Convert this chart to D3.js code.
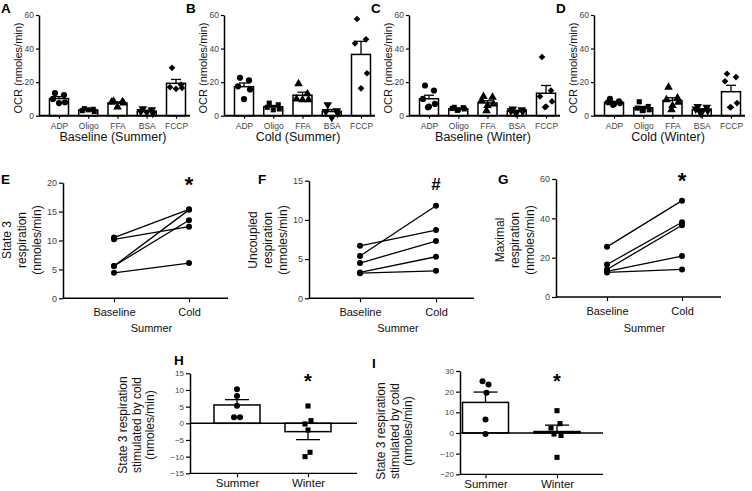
<!DOCTYPE html>
<html><head><meta charset="utf-8">
<script src="https://cdn.jsdelivr.net/npm/d3@7"></script>
<style>
body{margin:0;background:#fff}
svg text{font-family:"Liberation Sans",Arial,sans-serif}
</style></head><body>
<svg id="c" width="752" height="491"></svg>
<script>
// ---------- DATA ----------
const ocrCategories = ["ADP","Oligo","FFA","BSA","FCCP"];
const ocrTicks = [0,20,40,60];

const baselineSummerMean = [10.2, 3.4, 7.6, 2.7, 19.3];
const baselineSummerSem  = [1.2, 0.3, 0.6, 0.5, 2.3];
const baselineSummerPts  = [[13.5,12.3,10,8,7.5],[4.2,3.8,3.0,2.5,3.5],[8.7,8.4,8.0,7.6,5.2],[4.2,3.5,2.5,1.5,2.0],[28.5,18.5,17,16.5,16]];

const coldSummerMean = [17.3, 5.3, 12.2, 2.5, 36.5];
const coldSummerSem  = [2.2, 0.8, 1.8, 1.2, 7.8];
const coldSummerPts  = [[22.6,21,17.5,15.6,9.9],[7.5,6.5,5,4,3.5],[19,13,10,9.5,9.5],[6.5,3,2.5,1.5,-1],[57.6,45.5,43.1,25.3,16.3]];

const baselineWinterMean = [10.1, 4.1, 7.6, 2.8, 13.4];
const baselineWinterSem  = [2.1, 0.3, 1.3, 0.35, 4.6];
const baselineWinterPts  = [[18,15,10,7,5.5,5],[5,4.8,4.3,4,3.5,3.2],[11.5,11,9,7,6,3],[4,3.5,3,2.5,2,1.8],[35,15,11.5,8.5,5.5,5]];

const coldWinterMean = [7.9, 4.7, 9.1, 3.5, 14.3];
const coldWinterSem  = [0.6, 0.8, 1.6, 0.65, 3.8];
const coldWinterPts  = [[10,8.5,8,7.5,7,6.5],[8.3,5.5,4.5,3.5,3.2,3],[17,10.5,9.5,8,6,3.5],[5.5,5,4,3,2,1.5],[25,23,20.5,7.5,5,5]];

const pairConditions = ["Baseline","Cold"];
const state3Baseline = [10.5,10.2,5.6,5.6,4.4];
const state3Cold     = [15.4,12.4,15.3,13.5,6.1];
const state3Ticks    = [0,5,10,15,20];
const uncoupledBaseline = [6.7,5.4,4.5,3.3,3.2];
const uncoupledCold     = [8.7,11.8,7.3,5.3,3.5];
const uncoupledTicks    = [0,5,10,15];
const maximalBaseline = [25.5,16.5,14,13,12.5];
const maximalCold     = [49,38,36.5,20.8,14];
const maximalTicks    = [0,20,40,60];

const seasons = ["Summer","Winter"];
const hMean = [5.5,-2.5];
const hSem  = [1.6,2.4];
const hSummerPts = [10.2,8.2,5.3,1.8,1.8];
const hWinterPts = [5.2,0.8,-0.2,-2.0,-8.7,-10];
const hTicks = [-15,-10,-5,0,5,10,15];
const iMean = [14.8,0.7];
const iSem  = [5.0,3.1];
const iSummerPts = [25,23.5,19.5,6.5,-0.5];
const iWinterPts = [10.8,4.5,2.4,-0.5,-1.2,-11.8];
const iTicks = [-20,-10,0,10,20,30];

// ---------- DRAWING ----------
const svg = d3.select("#c");
const TICKC = "#444";
const jitter = [-4,5,-6,6,0,-1];

function styleAxis(sel, fs){
  sel.attr("font-family",null).attr("font-size",null);
  sel.selectAll("text").attr("font-size",fs).attr("fill",TICKC);
  sel.selectAll(".tick line").attr("stroke","#000").attr("stroke-width",1.2);
  sel.select(".domain").attr("stroke","#000").attr("stroke-width",1.5);
}
function vtext(g,x,y,str,fs){
  g.append("text").attr("transform",`translate(${x},${y}) rotate(-90)`)
    .attr("text-anchor","middle").attr("dominant-baseline","central")
    .attr("font-size",fs).attr("fill","#111").text(str);
}
function letter(g,x,y,l){
  g.append("text").attr("x",x).attr("y",y).attr("font-size",13.5).attr("font-weight","bold").text(l);
}

const symTypes = [
  {t:d3.symbolCircle,s:30,r:0},
  {t:d3.symbolSquare,s:26,r:0},
  {t:d3.symbolTriangle,s:32,r:0},
  {t:d3.symbolTriangle,s:32,r:180},
  {t:d3.symbolSquare,s:22,r:45}
];

function ocrPanel(ox,lab,title,means,sems,pts){
  const g = svg.append("g").attr("transform",`translate(${ox},0)`);
  const x = d3.scalePoint().domain(ocrCategories).range([59,176]);
  const y = d3.scaleLinear().domain([0,60]).range([115.7,15]);
  const ya = g.append("g").attr("transform","translate(39,0)")
    .call(d3.axisLeft(y).tickValues(ocrTicks).tickSize(3).tickSizeOuter(0).tickPadding(2));
  styleAxis(ya,8.5);
  const bw = 19;
  g.selectAll("rect.bar").data(means).join("rect")
    .attr("x",(d,i)=>x(ocrCategories[i])-bw/2).attr("y",d=>y(d))
    .attr("width",bw).attr("height",d=>y(0)-y(d))
    .attr("fill","#fff").attr("stroke","#000").attr("stroke-width",1.5);
  means.forEach((m,i)=>{
    const cx = x(ocrCategories[i]);
    g.append("line").attr("x1",cx).attr("x2",cx).attr("y1",y(m)).attr("y2",y(m+sems[i])).attr("stroke","#000").attr("stroke-width",1.3);
    g.append("line").attr("x1",cx-5).attr("x2",cx+5).attr("y1",y(m+sems[i])).attr("y2",y(m+sems[i])).attr("stroke","#000").attr("stroke-width",1.3);
  });
  const xa = g.append("g").attr("transform",`translate(0,${y(0)})`)
    .call(d3.axisBottom(x).tickSize(3).tickSizeOuter(0).tickPadding(4));
  xa.select(".domain").remove();
  styleAxis(xa,8.5);
  g.append("line").attr("x1",39).attr("x2",190).attr("y1",y(0)).attr("y2",y(0)).attr("stroke","#000").attr("stroke-width",2);
  pts.forEach((arr,i)=>{
    const st = symTypes[i];
    const sym = d3.symbol().type(st.t).size(st.s);
    arr.forEach((v,j)=>{
      g.append("path").attr("d",sym)
        .attr("transform",`translate(${x(ocrCategories[i])+jitter[j]},${y(v)}) rotate(${st.r})`)
        .attr("fill","#000");
    });
  });
  letter(g,1,13,lab);
  vtext(g,18,68,"OCR (nmoles/min)",11);
  g.append("text").attr("x",113).attr("y",141).attr("text-anchor","middle").attr("font-size",12.5).attr("fill","#111").text(title);
}

ocrPanel(0,"A","Baseline (Summer)",baselineSummerMean,baselineSummerSem,baselineSummerPts);
ocrPanel(185,"B","Cold (Summer)",coldSummerMean,coldSummerSem,coldSummerPts);
ocrPanel(370,"C","Baseline (Winter)",baselineWinterMean,baselineWinterSem,baselineWinterPts);
ocrPanel(555,"D","Cold (Winter)",coldWinterMean,coldWinterSem,coldWinterPts);

function pairPanel(c){
  const g = svg.append("g");
  const x = d3.scalePoint().domain(pairConditions).range(c.xr);
  const y = d3.scaleLinear().domain([0,c.max]).range(c.yr);
  const ya = g.append("g").attr("transform",`translate(${c.ax},0)`)
    .call(d3.axisLeft(y).tickValues(c.ticks).tickSize(4).tickSizeOuter(0).tickPadding(2));
  styleAxis(ya,9);
  const xa = g.append("g").attr("transform",`translate(0,${y(0)})`)
    .call(d3.axisBottom(x).tickSize(4).tickSizeOuter(0).tickPadding(6));
  xa.select(".domain").remove();
  styleAxis(xa,11);
  xa.selectAll("text").attr("fill","#111");
  g.append("line").attr("x1",c.ax).attr("x2",c.ax+165).attr("y1",y(0)).attr("y2",y(0)).attr("stroke","#000").attr("stroke-width",1.5);
  c.b.forEach((v,i)=>{
    g.append("line").attr("x1",x("Baseline")).attr("y1",y(v)).attr("x2",x("Cold")).attr("y2",y(c.c[i])).attr("stroke","#000").attr("stroke-width",1.3);
  });
  c.b.forEach(v=>g.append("circle").attr("cx",x("Baseline")).attr("cy",y(v)).attr("r",3).attr("fill","#000"));
  c.c.forEach(v=>g.append("circle").attr("cx",x("Cold")).attr("cy",y(v)).attr("r",3).attr("fill","#000"));
  g.append("text").attr("x",(x("Baseline")+x("Cold"))/2).attr("y",332).attr("text-anchor","middle").attr("font-size",11).attr("fill","#111").text("Summer");
  g.append("text").attr("x",x("Cold")).attr("y",c.my).attr("text-anchor","middle").attr("font-size",c.ms).attr("font-weight","bold").text(c.mark);
  letter(g,c.lx,184,c.lab);
  c.lines.forEach((s,i)=>vtext(g,c.lc[i],240,s,12));
}

pairPanel({ax:63,xr:[114,189],yr:[298.3,182.7],max:20,ticks:state3Ticks,b:state3Baseline,c:state3Cold,
  mark:"*",my:192,ms:22,lab:"E",lx:1,lines:["State 3","respiration","(nmoles/min)"],lc:[7,22,37]});
pairPanel({ax:309,xr:[360,436],yr:[298.3,180.7],max:15,ticks:uncoupledTicks,b:uncoupledBaseline,c:uncoupledCold,
  mark:"#",my:190,ms:17,lab:"F",lx:258,lines:["Uncoupled","respiration","(nmoles/min)"],lc:[253,268,283]});
pairPanel({ax:556,xr:[607,682],yr:[297,179],max:60,ticks:maximalTicks,b:maximalBaseline,c:maximalCold,
  mark:"*",my:188,ms:22,lab:"G",lx:498,lines:["Maximal","respiration","(nmoles/min)"],lc:[500,515,530]});

function diffPanel(c){
  const g = svg.append("g");
  const x = d3.scalePoint().domain(seasons).range(c.xr);
  const y = d3.scaleLinear().domain(c.dom).range(c.yr);
  const ya = g.append("g").attr("transform",`translate(${c.ax},0)`)
    .call(d3.axisLeft(y).tickValues(c.ticks).tickSize(4).tickSizeOuter(0).tickPadding(2));
  styleAxis(ya,8);
  const bw = 46;
  c.mean.forEach((m,i)=>{
    const cx = x(seasons[i]);
    g.append("rect").attr("x",cx-bw/2).attr("y",Math.min(y(m),y(0))).attr("width",bw)
      .attr("height",Math.abs(y(0)-y(m))).attr("fill","#fff").attr("stroke","#000").attr("stroke-width",1.5);
    const e = m>=0 ? m+c.sem[i] : m-c.sem[i];
    g.append("line").attr("x1",cx).attr("x2",cx).attr("y1",y(m)).attr("y2",y(e)).attr("stroke","#000").attr("stroke-width",1.3);
    g.append("line").attr("x1",cx-12).attr("x2",cx+12).attr("y1",y(e)).attr("y2",y(e)).attr("stroke","#000").attr("stroke-width",1.3);
  });
  g.append("line").attr("x1",c.ax).attr("x2",c.xend).attr("y1",y(0)).attr("y2",y(0)).attr("stroke","#000").attr("stroke-width",1.5);
  const xa = g.append("g").attr("transform",`translate(0,${y(c.dom[0])})`)
    .call(d3.axisBottom(x).tickSize(4).tickSizeOuter(0).tickPadding(2));
  xa.select(".domain").remove();
  styleAxis(xa,11.5);
  xa.selectAll("text").attr("fill","#111");
  g.append("line").attr("x1",c.ax).attr("x2",c.xend).attr("y1",y(c.dom[0])).attr("y2",y(c.dom[0])).attr("stroke","#000").attr("stroke-width",1.2);
  const sq = d3.symbol().type(d3.symbolSquare).size(26);
  c.sp.forEach((v,j)=>g.append("circle").attr("cx",x("Summer")+c.sj[j]).attr("cy",y(v)).attr("r",3).attr("fill","#000"));
  c.wp.forEach((v,j)=>g.append("path").attr("d",sq).attr("transform",`translate(${x("Winter")+c.wj[j]},${y(v)})`).attr("fill","#000"));
  g.append("text").attr("x",x("Winter")).attr("y",388).attr("text-anchor","middle").attr("font-size",20).attr("font-weight","bold").text("*");
  letter(g,c.lx,c.ly,c.lab);
  ["State 3 respiration","stimulated by cold","(nmoles/min)"].forEach((s,i)=>vtext(g,c.lc[i],c.lcy,s,12));
}

diffPanel({ax:190,xr:[237,308],xend:357,dom:[-15,15],yr:[473.3,373.3],ticks:hTicks,mean:hMean,sem:hSem,
  sp:hSummerPts,wp:hWinterPts,sj:[0,0,0,-3,3],wj:[0,3,-3,0,2,-3],lab:"H",lx:174,ly:365,lc:[123,136.5,150],lcy:425});
diffPanel({ax:460,xr:[485.5,557],xend:603,dom:[-20,30],yr:[474.3,371],ticks:iTicks,mean:iMean,sem:iSem,
  sp:iSummerPts,wp:iWinterPts,sj:[-3,3,1,0,0],wj:[0,3,-6,-3,4,0],lab:"I",lx:372,ly:368,lc:[381,394.5,408],lcy:431});
</script></body></html>
